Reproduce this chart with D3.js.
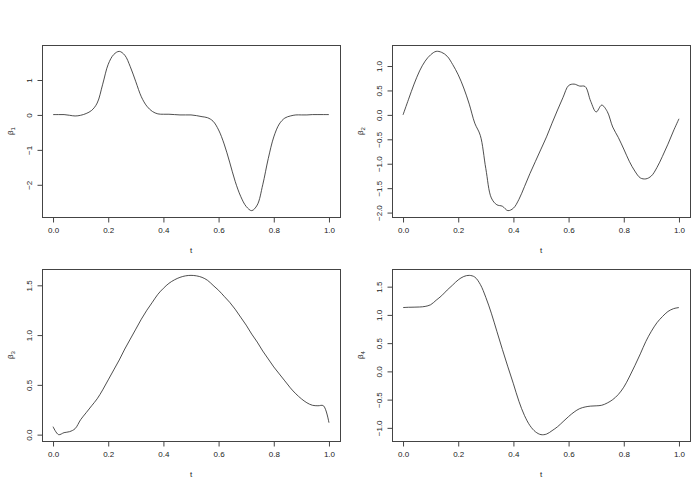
<!DOCTYPE html>
<html><head><meta charset="utf-8">
<script src="https://cdn.jsdelivr.net/npm/d3@7"></script>
<style>body{margin:0;background:#fff}svg{display:block}text{font-family:"Liberation Sans",Arial,sans-serif;fill:#222}</style>
</head><body><svg id="c" width="700" height="482"></svg>
<script>
const tGrid = d3.range(0, 51).map(i => +(i * 0.02).toFixed(2));
const xTicks = [0, 0.2, 0.4, 0.6, 0.8, 1.0];
const beta1 = [0.01,0.01,0.01,-0.01,-0.03,-0.01,0.04,0.13,0.34,0.88,1.45,1.73,1.82,1.71,1.38,0.95,0.52,0.25,0.10,0.03,
  0.02,0.02,0.01,0.00,0.00,0.00,-0.02,-0.05,-0.08,-0.18,-0.43,-0.83,-1.35,-1.90,-2.33,-2.62,-2.74,-2.58,-2.00,-1.25,
  -0.63,-0.26,-0.09,-0.03,0.00,0.00,0.00,0.01,0.01,0.01,0.01];
const beta2 = [0.00,0.32,0.63,0.90,1.10,1.23,1.30,1.28,1.20,1.03,0.82,0.55,0.22,-0.17,-0.42,-1.10,-1.70,-1.84,-1.87,-1.96,
  -1.91,-1.73,-1.47,-1.20,-0.95,-0.70,-0.45,-0.17,0.10,0.36,0.60,0.63,0.59,0.58,0.28,0.06,0.20,0.07,-0.25,-0.46,
  -0.70,-0.95,-1.15,-1.29,-1.31,-1.25,-1.08,-0.85,-0.60,-0.33,-0.08];
const beta3 = [0.08,0.00,0.02,0.03,0.06,0.15,0.22,0.29,0.36,0.45,0.55,0.65,0.75,0.86,0.96,1.06,1.16,1.25,1.33,1.41,
  1.47,1.52,1.555,1.58,1.595,1.60,1.595,1.58,1.55,1.50,1.45,1.39,1.33,1.26,1.18,1.10,1.01,0.93,0.84,0.76,
  0.68,0.61,0.54,0.47,0.41,0.36,0.32,0.295,0.29,0.29,0.12];
const beta4 = [1.13,1.135,1.137,1.14,1.15,1.18,1.26,1.34,1.44,1.53,1.62,1.68,1.70,1.67,1.54,1.31,1.03,0.71,0.39,0.08,
  -0.22,-0.53,-0.78,-0.96,-1.07,-1.12,-1.11,-1.05,-0.98,-0.89,-0.80,-0.72,-0.66,-0.63,-0.615,-0.61,-0.60,-0.56,-0.50,-0.41,
  -0.28,-0.10,0.10,0.31,0.53,0.71,0.86,0.97,1.06,1.11,1.13];
const yTicks1 = [-2, -1, 0, 1];
const yTicks2 = [-2.0, -1.5, -1.0, -0.5, 0.0, 0.5, 1.0];
const yTicks3 = [0.0, 0.5, 1.0, 1.5];
const yTicks4 = [-1.0, -0.5, 0.0, 0.5, 1.0, 1.5];

const panels = [
  {vals: beta1, ticks: yTicks1, fmt: d3.format("d"), sub: "1", x0: 42, y0: 45},
  {vals: beta2, ticks: yTicks2, fmt: d3.format(".1f"), sub: "2", x0: 392, y0: 45},
  {vals: beta3, ticks: yTicks3, fmt: d3.format(".1f"), sub: "3", x0: 42, y0: 269},
  {vals: beta4, ticks: yTicks4, fmt: d3.format(".1f"), sub: "4", x0: 392, y0: 269}
];
const W = 298, H = 172;
const svg = d3.select("#c");
const fs = 8;

panels.forEach(p => {
  const g = svg.append("g").attr("transform", `translate(${p.x0},${p.y0})`);
  const ext = d3.extent(p.vals), r = ext[1] - ext[0];
  const x = d3.scaleLinear().domain([-0.04, 1.04]).range([0, W]);
  const y = d3.scaleLinear().domain([ext[0] - 0.04 * r, ext[1] + 0.04 * r]).range([H, 0]);
  g.append("rect").attr("x", 0.5).attr("y", 0.5).attr("width", W).attr("height", H)
    .attr("fill", "none").attr("stroke", "#444").attr("stroke-width", 1);
  const xa = g.append("g").attr("transform", `translate(0,${H + 0.5})`)
    .call(d3.axisBottom(x).tickValues(xTicks).tickFormat(d3.format(".1f")).tickSize(5).tickPadding(5));
  xa.select(".domain").attr("d", `M${x(0)},0H${x(1)}`).attr("stroke", "#444");
  xa.selectAll(".tick line").attr("stroke", "#444");
  xa.selectAll("text").attr("font-size", fs).attr("font-family", null).style("fill", "#222");
  const ya = g.append("g").attr("transform", `translate(0.5,0)`)
    .call(d3.axisLeft(y).tickValues(p.ticks).tickFormat(p.fmt).tickSize(5));
  ya.select(".domain").attr("d", `M0,${y(p.ticks[0])}V${y(p.ticks[p.ticks.length - 1])}`).attr("stroke", "#444");
  ya.selectAll(".tick line").attr("stroke", "#444");
  ya.selectAll(".tick text").attr("x", null).attr("dy", null).attr("font-size", fs).attr("font-family", null)
    .style("fill", "#222").attr("text-anchor", "middle").attr("transform", "translate(-13,0) rotate(-90)").attr("dy", "0.35em");
  const line = d3.line().x((d, i) => x(tGrid[i])).y(d => y(d)).curve(d3.curveCatmullRom.alpha(0.5));
  g.append("path").datum(p.vals).attr("d", line).attr("fill", "none").attr("stroke", "#222").attr("stroke-width", 0.8);
  g.append("text").attr("x", x(0.5)).attr("y", H + 36).attr("text-anchor", "middle").attr("font-size", fs).text("t");
  const yl = g.append("text").attr("transform", `translate(-29,${H / 2}) rotate(-90)`).attr("text-anchor", "middle")
    .attr("font-size", fs);
  yl.append("tspan").text("β");
  yl.append("tspan").attr("font-size", 6).attr("dy", 2).text(p.sub);
});
</script></body></html>
